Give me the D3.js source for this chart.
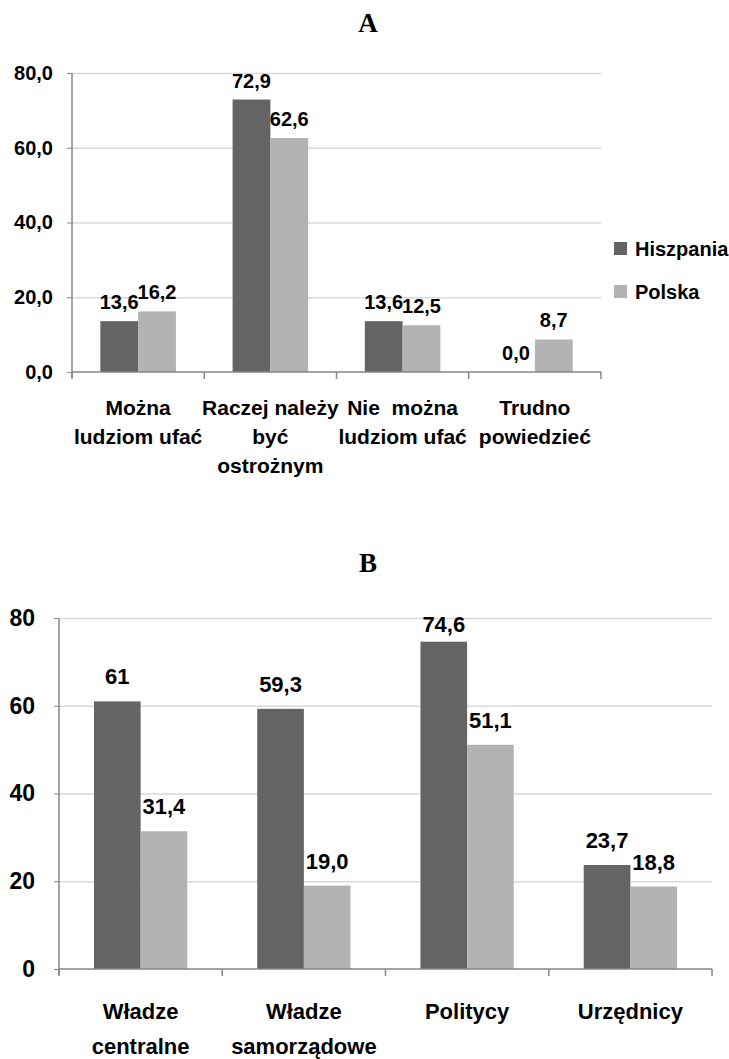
<!DOCTYPE html>
<html>
<head>
<meta charset="utf-8">
<script src="https://cdn.jsdelivr.net/npm/d3@7"></script>
<style>
  body { margin: 0; background: #fff; }
  svg { display: block; }
</style>
</head>
<body>
<svg id="chart"></svg>
<script>
// --- data ---
const seriesNames = ["Hiszpania", "Polska"];
const seriesColors = ["#646464", "#b3b3b3"];

// chart A
const aCategories = [["Można", "ludziom ufać"], ["Raczej należy", "być", "ostrożnym"], ["Nie  można", "ludziom ufać"], ["Trudno", "powiedzieć"]];
const aHiszpania = [13.6, 72.9, 13.6, 0.0];
const aPolska = [16.2, 62.6, 12.5, 8.7];
const aTicks = [0, 20, 40, 60, 80];

// chart B
const bCategories = [["Władze", "centralne"], ["Władze", "samorządowe"], ["Politycy"], ["Urzędnicy"]];
const bHiszpania = [61, 59.3, 74.6, 23.7];
const bPolska = [31.4, 19.0, 51.1, 18.8];
const bHiszpaniaLabels = ["61", "59,3", "74,6", "23,7"];
const bPolskaLabels = ["31,4", "19,0", "51,1", "18,8"];
const bTicks = [0, 20, 40, 60, 80];

const FONT = "'Liberation Sans', Arial, sans-serif";
const SERIF = "'Liberation Serif', 'Times New Roman', serif";

const plFormat = d3.formatLocale({decimal: ",", thousands: "\u00a0", grouping: [3], currency: ["", ""]});
const fmt1 = plFormat.format(".1f");

const svg = d3.select("#chart").attr("width", 729).attr("height", 1059);

function drawChart(o) {
  const g = svg.append("g");

  const x0 = d3.scaleBand()
    .domain(d3.range(o.categories.length))
    .range([o.left, o.right])
    .paddingInner(1.5 / 3.5)
    .paddingOuter(0.75 / 3.5);
  const x1 = d3.scaleBand().domain([0, 1]).range([0, x0.bandwidth()]);
  const y = d3.scaleLinear().domain([0, 80]).range([o.bottom, o.top]);

  // title
  g.append("text")
    .attr("x", 368).attr("y", o.titleY)
    .attr("text-anchor", "middle")
    .attr("font-family", SERIF).attr("font-weight", "bold").attr("font-size", 27)
    .text(o.title);

  // gridlines
  const grid = g.append("g")
    .attr("transform", `translate(${o.left},0)`)
    .call(d3.axisLeft(y).tickValues(o.ticks.filter(t => t > 0)).tickSize(-(o.right - o.left)).tickFormat(""));
  grid.select(".domain").remove();
  grid.selectAll("line").attr("stroke", "#d9d9d9").attr("stroke-width", 1.5);

  // bars
  o.series.forEach((vals, si) => {
    g.selectAll(null)
      .data(vals)
      .enter()
      .append("rect")
      .attr("x", (d, i) => x0(i) + x1(si))
      .attr("y", d => y(d))
      .attr("width", x1.bandwidth())
      .attr("height", d => y(0) - y(d))
      .attr("fill", seriesColors[si]);
  });

  // y axis ticks + labels
  const ya = g.append("g")
    .attr("transform", `translate(${o.left},0)`)
    .call(d3.axisLeft(y).tickValues(o.ticks).tickSize(5).tickPadding(o.tickPad).tickFormat(o.tickFmt));
  ya.attr("font-family", FONT)
    .attr("font-size", o.tickFont)
    .attr("font-weight", "bold");
  ya.select(".domain").remove();
  ya.selectAll("line").attr("stroke", "#868686");
  ya.selectAll("text").attr("fill", "#000");

  // axis lines
  g.append("line")
    .attr("x1", o.left).attr("x2", o.left)
    .attr("y1", y(80)).attr("y2", y(0) + 6)
    .attr("stroke", "#868686").attr("stroke-width", 1.5);
  g.append("line")
    .attr("x1", o.left).attr("x2", o.right)
    .attr("y1", y(0)).attr("y2", y(0))
    .attr("stroke", "#868686").attr("stroke-width", 1.5);

  // category boundary ticks
  const bounds = d3.range(o.categories.length + 1).map(i => o.left + i * x0.step());
  g.selectAll(null)
    .data(bounds)
    .enter()
    .append("line")
    .attr("x1", d => d).attr("x2", d => d)
    .attr("y1", y(0)).attr("y2", y(0) + 7)
    .attr("stroke", "#868686").attr("stroke-width", 1.5);

  // category labels
  const cat = g.selectAll(null)
    .data(o.categories)
    .enter()
    .append("text")
    .attr("text-anchor", "middle")
    .attr("font-family", FONT)
    .attr("font-weight", "bold")
    .attr("font-size", o.catFont)
    .style("white-space", "pre");
  cat.selectAll("tspan")
    .data((d, i) => d.map(line => ({line, i})))
    .enter()
    .append("tspan")
    .attr("x", d => x0(d.i) + x0.bandwidth() / 2)
    .attr("y", (d, j) => o.catY + j * o.catGap)
    .text(d => d.line);

  // value labels
  o.series.forEach((vals, si) => {
    g.selectAll(null)
      .data(vals)
      .enter()
      .append("text")
      .attr("x", (d, i) => x0(i) + x1(si) + x1.bandwidth() / 2)
      .attr("y", d => Math.max(y(d) - o.labelGap, y(80) + o.labelMinTop))
      .attr("text-anchor", "middle")
      .attr("font-family", FONT)
      .attr("font-weight", "bold")
      .attr("font-size", o.labelFont)
      .text((d, i) => o.labels[si][i]);
  });
}

drawChart({
  title: "A", titleY: 32,
  categories: aCategories,
  series: [aHiszpania, aPolska],
  labels: [aHiszpania.map(fmt1), aPolska.map(fmt1)],
  ticks: aTicks, tickFmt: fmt1,
  left: 72, right: 601, top: 73, bottom: 372,
  tickFont: 20, tickPad: 14,
  catFont: 21, catY: 415, catGap: 29,
  labelFont: 20, labelGap: 12, labelMinTop: 14
});

drawChart({
  title: "B", titleY: 572,
  categories: bCategories,
  series: [bHiszpania, bPolska],
  labels: [bHiszpaniaLabels, bPolskaLabels],
  ticks: bTicks, tickFmt: d3.format("d"),
  left: 59, right: 712, top: 618, bottom: 969,
  tickFont: 23, tickPad: 19,
  catFont: 22, catY: 1019, catGap: 35,
  labelFont: 22, labelGap: 17, labelMinTop: 14
});

// legend (chart A)
const legend = svg.append("g")
  .selectAll("g")
  .data(seriesNames)
  .enter()
  .append("g")
  .attr("transform", (d, i) => `translate(614,${242 + i * 43})`);
legend.append("rect")
  .attr("width", 13).attr("height", 13)
  .attr("fill", (d, i) => seriesColors[i]);
legend.append("text")
  .attr("x", 21).attr("y", 14)
  .attr("font-family", FONT)
  .attr("font-weight", "bold")
  .attr("font-size", 20)
  .text(d => d);
</script>
</body>
</html>
